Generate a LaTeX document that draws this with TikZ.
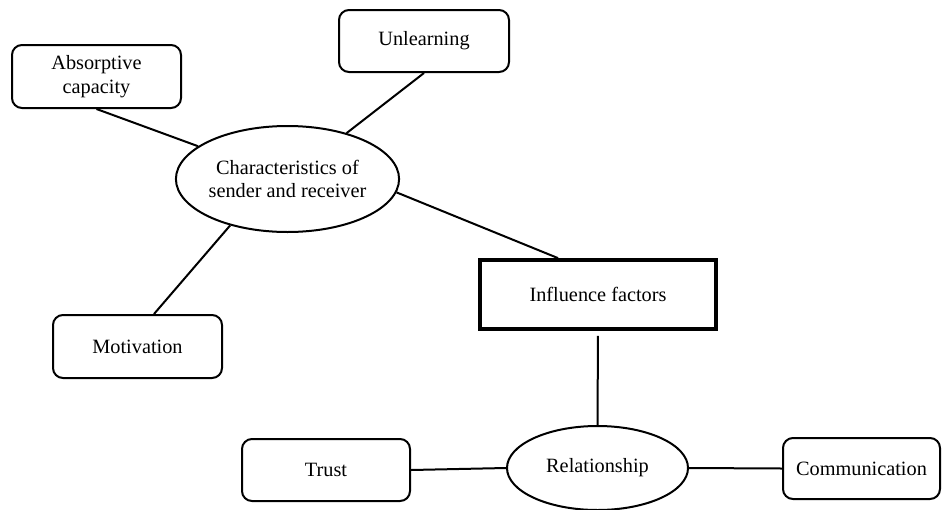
\documentclass[tikz,border=0pt]{standalone}
\usepackage{fontspec}
\setmainfont{Liberation Serif}
\usetikzlibrary{shapes.geometric,calc}
\begin{document}
\begin{tikzpicture}[x=1pt,y=-1pt,
  every node/.style={font=\fontsize{20.3}{22.8}\selectfont, align=center, inner sep=0pt},
  rbox/.style={draw, line width=2pt, rounded corners=10pt},
  sqbox/.style={draw, line width=3.8pt},
  oval/.style={draw, ellipse, line width=2pt},
  link/.style={line width=2pt}]
\useasboundingbox (0,0) rectangle (942,509);

% concept nodes
\node[rbox, minimum width=169, minimum height=63, font=\fontsize{20.3}{24}\selectfont] (abs) at (96.5,76.5) {Absorptive\\capacity};
\node[rbox, minimum width=170, minimum height=62] (unl) at (424,41) {Unlearning};
\node[rbox, minimum width=169, minimum height=63] (mot) at (137.5,346.5) {Motivation};
\node[oval, minimum width=197, minimum height=106] (char) at (287.5,179) {Characteristics of\\sender and receiver};
\node[sqbox, minimum width=236, minimum height=69] (infl) at (598,294.5) {Influence factors};
\node[oval, minimum width=181, minimum height=84] (rel) at (597.5,468) {Relationship};
\node[rbox, minimum width=168, minimum height=62] (trust) at (326,470) {Trust};
\node[rbox, minimum width=157, minimum height=61] (comm) at (861.5,468.5) {Communication};

% connectors
\draw[link] (abs.south) -- (char);
\draw[link] (unl.south) -- (char);
\draw[link] ($(mot.north)+(16.5,0)$) -- (char.219);
\draw[link] (char.353) -- ($(infl.north)+(-40,0)$);
\draw[link, shorten <=5pt] (infl.south) -- (rel.north);
\draw[link] (trust.east) -- (rel.west);
\draw[link] (rel.east) -- (comm.west);
\end{tikzpicture}
\end{document}
